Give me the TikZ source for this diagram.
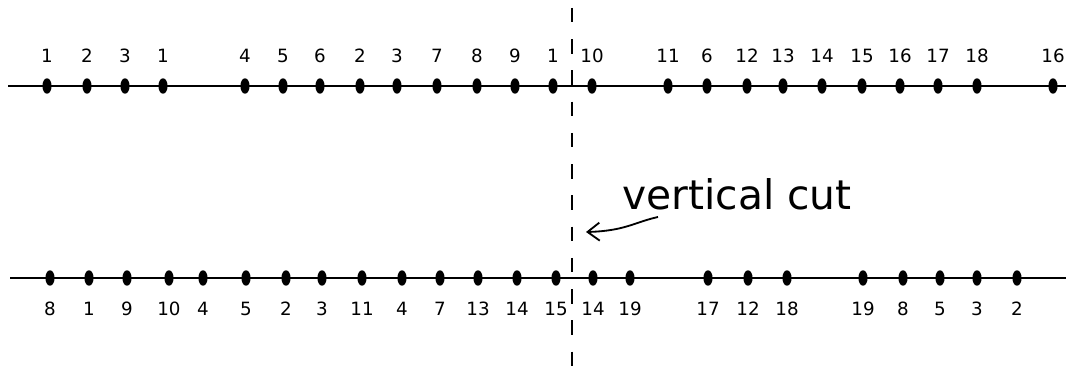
\documentclass[tikz,border=0pt]{standalone}
\usepackage{fontspec}
\setmainfont{DejaVu Sans}
\usetikzlibrary{shapes.geometric, arrows.meta}

\tikzset{
  bead/.style={ellipse, fill=black, inner sep=0pt, minimum width=6.5pt, minimum height=11pt},
  num/.style={font=\fontsize{13}{15}\selectfont, inner sep=0pt, anchor=base},
  strand/.style={line width=1.6pt},
  cut/.style={line width=1.4pt, dash pattern=on 0.36cm off 0.421cm},
}

\begin{document}
\begin{tikzpicture}[x=0.025cm, y=-0.025cm]
    \useasboundingbox (0,0) rectangle (1066,366);

    % Draw strands
    \coordinate (tl) at (8,86);
    \coordinate (tr) at (1066,86);
    \coordinate (bl) at (10,278);
    \coordinate (br) at (1066,278);
    \draw[strand] (tl) -- (tr);
    \draw[strand] (bl) -- (br);

    % Draw nodes, top strand
    \foreach \x/\n [count=\i] in {47/1, 87/2, 125/3, 163/1, 245/4, 283/5, 320/6, 360/2,
        397/3, 437/7, 477/8, 515/9, 553/1, 592/10, 668/11, 707/6, 747/12, 783/13,
        822/14, 862/15, 900/16, 938/17, 977/18, 1053/16}
    {
        \node[bead] (t\i) at (\x,86) {};
        \node[num] (tn\i) at (\x,63) {\n};
    }

    % Draw nodes, bottom strand
    \foreach \x/\n [count=\i] in {50/8, 89/1, 127/9, 169/10, 203/4, 246/5, 286/2, 322/3,
        362/11, 402/4, 440/7, 478/13, 517/14, 556/15, 593/14, 630/19, 708/17, 748/12,
        787/18, 863/19, 903/8, 940/5, 977/3, 1017/2}
    {
        \node[bead] (b\i) at (\x,278) {};
        \node[num] (bn\i) at (\x,316) {\n};
    }

    % Cut
    \coordinate (cuttop) at (572,8);
    \coordinate (cutbot) at (572,366);
    \draw[cut] (cuttop) -- (cutbot);

    % Label
    \node[anchor=base, font=\fontsize{29}{34}\selectfont, inner sep=0pt] (cutlabel) at (737,210) {vertical cut};
    \coordinate (arrowtail) at (658,217);
    \coordinate (arrowhead) at (586,232);
    \draw[line width=1.3pt, -{Straight Barb[length=3mm, width=4.5mm]}]
        (arrowtail) .. controls (635,222) and (625,231) .. (arrowhead);
\end{tikzpicture}
\end{document}
